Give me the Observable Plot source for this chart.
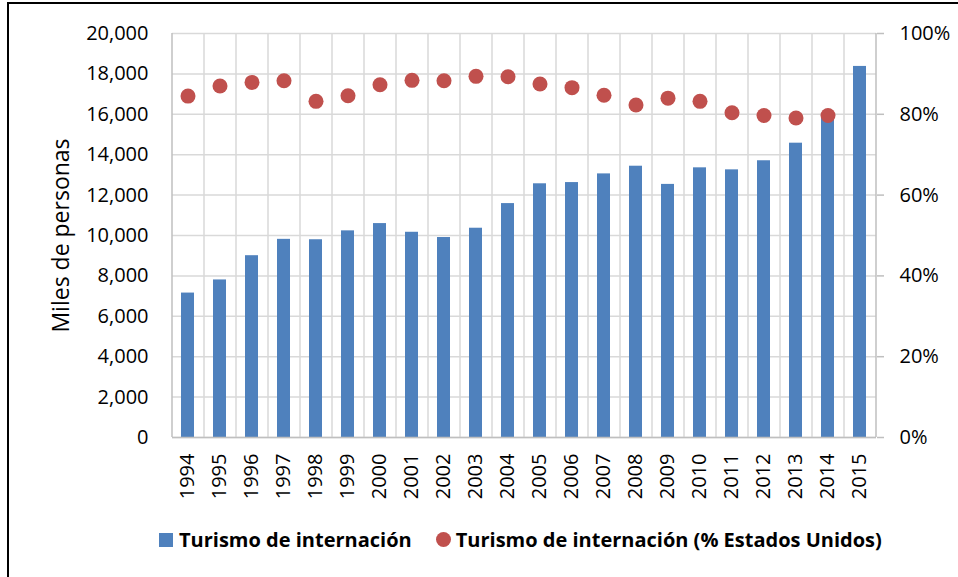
<!DOCTYPE html>
<html>
<head>
<meta charset="utf-8">
<script src="https://cdn.jsdelivr.net/npm/d3@7"></script>
<script src="https://cdn.jsdelivr.net/npm/@observablehq/plot@0.6"></script>
<style>
  html, body { margin: 0; padding: 0; background: #fff; }
  body { width: 958px; height: 577px; position: relative; overflow: hidden; font-family: "Open Sans", sans-serif; }
  #frame { position: absolute; left: 7px; top: 2px; width: 1000px; height: 1000px; border-left: 2px solid #000; border-top: 2px solid #000; }
  #chart { position: absolute; left: 0; top: 0; }
  #legend { position: absolute; left: 159px; top: 526px; display: flex; align-items: center; font-weight: bold; font-size: 20px; color: #000; white-space: nowrap; }
  .sw { display: inline-block; width: 14px; height: 14px; margin-right: 6px; }
  .sq { background: #4F81BD; }
  .ci { background: #C0504D; border-radius: 50%; width: 15px; height: 15px; margin-left: 24px; margin-right: 5px; }
</style>
</head>
<body>
<div id="frame"></div>
<div id="chart"></div>
<div id="legend">
  <span class="sw sq"></span><span>Turismo de internación</span>
  <span class="sw ci"></span><span>Turismo de internación (% Estados Unidos)</span>
</div>
<script>
const years = ["1994","1995","1996","1997","1998","1999","2000","2001","2002","2003","2004","2005","2006","2007","2008","2009","2010","2011","2012","2013","2014","2015"];
const turismo = [7150, 7800, 9000, 9810, 9790, 10230, 10590, 10160, 9900, 10360, 11580, 12560, 12620, 13050, 13430, 12530, 13350, 13250, 13700, 14570, 16000, 18370];
const pctEEUU = [84.5, 87.0, 87.9, 88.3, 83.2, 84.6, 87.3, 88.4, 88.3, 89.4, 89.3, 87.5, 86.6, 84.7, 82.3, 84.0, 83.2, 80.4, 79.7, 79.1, 79.7, null];
const leftTicks = [0, 2000, 4000, 6000, 8000, 10000, 12000, 14000, 16000, 18000, 20000];
const rightTicks = [0, 20, 40, 60, 80, 100];

const barData = years.map((y, i) => ({year: y, value: turismo[i]}));
const dotData = years.map((y, i) => ({year: y, pct: pctEEUU[i]})).filter(d => d.pct != null);
const yMax = 20000, pctMax = 100;
const toLeft = p => p * yMax / pctMax;

const W = 958, H = 510;
const mL = 172, mR = 82, mT = 33, mB = 73;
const step = (W - mL - mR) / years.length;

const grid = "#D9D9D9", axisC = "#BFBFBF";

const chart = Plot.plot({
  width: W,
  height: H,
  marginLeft: mL,
  marginRight: mR,
  marginTop: mT,
  marginBottom: mB,
  style: {fontFamily: "'Open Sans', sans-serif", fontSize: "20px", color: "#000", background: "transparent", overflow: "visible"},
  x: {type: "band", domain: years, paddingInner: 0.59, paddingOuter: 0.295},
  y: {domain: [0, yMax]},
  marks: [
    Plot.ruleY(leftTicks, {stroke: grid, strokeWidth: 1.5}),
    Plot.ruleX(years.slice(1), {x: d => d, dx: -step / 2, stroke: grid, strokeWidth: 1.5}),
    Plot.barY(barData, {x: "year", y: "value", fill: "#4F81BD"}),
    Plot.ruleY([0], {stroke: axisC, strokeWidth: 1.5}),
    Plot.axisY(leftTicks, {anchor: "left", tickSize: 0, tickPadding: 24, tickFormat: d3.format(","), fontSize: 20, label: null}),
    Plot.axisY([], {anchor: "left", tickSize: 0, fontSize: 23, label: "Miles de personas", labelAnchor: "center", labelArrow: "none", labelOffset: 120}),
    Plot.axisY(rightTicks.map(toLeft), {anchor: "right", tickSize: 7, tickPadding: 16, stroke: axisC, strokeWidth: 1.5, tickFormat: v => Math.round(v * pctMax / yMax) + "%", fontSize: 20, label: null}),
    Plot.axisX({anchor: "bottom", tickSize: 0, tickPadding: 16, tickRotate: -90, fontSize: 20, label: null}),
    Plot.dot(dotData, {x: "year", y: d => toLeft(d.pct), r: 7.5, fill: "#C0504D", stroke: "none"})
  ]
});

// axis lines on left and right of the plot area
const svg = d3.select(chart);
svg.append("line").attr("x1", mL).attr("x2", mL).attr("y1", mT).attr("y2", H - mB).attr("stroke", axisC).attr("stroke-width", 1.5);
svg.append("line").attr("x1", W - mR).attr("x2", W - mR).attr("y1", mT).attr("y2", H - mB).attr("stroke", axisC).attr("stroke-width", 1.5);

document.getElementById("chart").appendChild(chart);
</script>
</body>
</html>
